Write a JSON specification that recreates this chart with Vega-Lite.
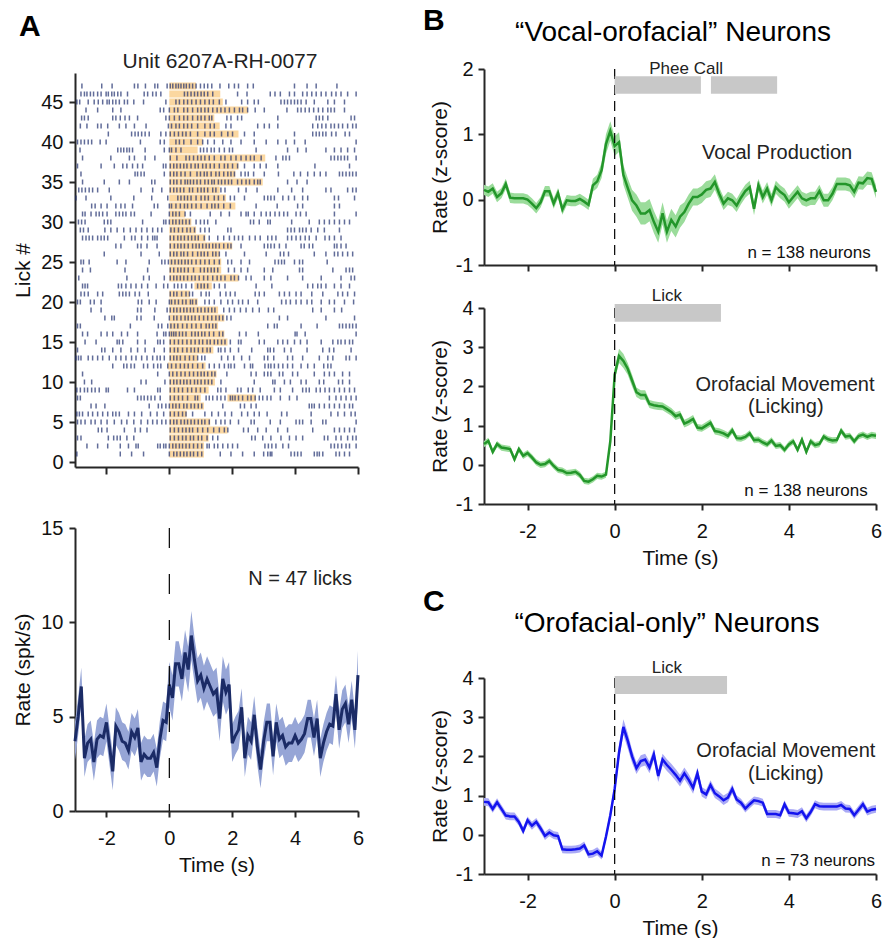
{
  "$schema": "https://vega.github.io/schema/vega-lite/v6.json",
  "background": "white",
  "padding": {"left": 12, "top": 5, "right": 0, "bottom": 0},
  "config": {
    "view": {"stroke": null},
    "font": "Liberation Sans",
    "axis": {"domainColor": "#262626", "domainWidth": 2, "tickColor": "#262626", "tickWidth": 2, "tickSize": 6, "labelFont": "Liberation Sans", "labelFontSize": 20, "labelColor": "#111", "titleFont": "Liberation Sans", "titleFontSize": 21, "titleFontWeight": "normal", "titleColor": "#111", "grid": false, "labelPadding": 5, "titlePadding": 6, "labelFlush": false, "labelOverlap": false},
    "axisX": {"labelPadding": 11, "titlePadding": 6},
    "text": {"font": "Liberation Sans"}
  },
  "datasets": {
    "licks": [
      {"r":47,"s":0,"e":0.85},{"r":46,"s":0,"e":1.62},{"r":45,"s":0,"e":1.7},{"r":44,"s":0,"e":2.5},{"r":43,"s":0,"e":1.43},{"r":42,"s":0,"e":1.6},{"r":41,"s":0,"e":2.2},{"r":40,"s":0,"e":1.06},{"r":39,"s":0,"e":0.9},{"r":38,"s":0,"e":3.05},{"r":37,"s":0,"e":2.2},{"r":36,"s":0,"e":2.1},{"r":35,"s":0,"e":2.97},{"r":34,"s":0,"e":1.6},{"r":33,"s":0,"e":1.8},{"r":32,"s":0,"e":2.1},{"r":31,"s":0,"e":0.5},{"r":30,"s":0,"e":0.7},{"r":29,"s":0,"e":0.85},{"r":28,"s":0,"e":1.15},{"r":27,"s":0,"e":2.0},{"r":26,"s":0,"e":1.6},{"r":25,"s":0,"e":1.65},{"r":24,"s":0,"e":1.65},{"r":23,"s":0,"e":2.2},{"r":22,"s":0.8,"e":1.35},{"r":21,"s":0,"e":0.65},{"r":20,"s":0,"e":0.9},{"r":19,"s":0,"e":1.55},{"r":18,"s":0,"e":1.75},{"r":17,"s":0,"e":1.55},{"r":16,"s":0,"e":1.75},{"r":15,"s":0,"e":1.85},{"r":14,"s":0,"e":1.4},{"r":13,"s":0,"e":0.9},{"r":12,"s":-0.05,"e":1.15},{"r":11,"s":0,"e":1.5},{"r":10,"s":0,"e":1.45},{"r":9,"s":0,"e":1.25},{"r":8,"s":0,"e":1.0},{"r":8,"s":1.85,"e":2.75},{"r":7,"s":0,"e":1.1},{"r":6,"s":0,"e":0.55},{"r":5,"s":0,"e":1.3},{"r":4,"s":0,"e":1.85},{"r":3,"s":0,"e":1.25},{"r":2,"s":0,"e":1.1},{"r":1,"s":0,"e":1.1}
    ],
    "spikes": [
      {"r":47,"t":[-2.78,-2.15,-1.82,-1.11,-1.0,-0.76,-0.46,-0.37,-0.07,0.03,0.11,0.21,0.29,0.37,0.46,0.54,0.64,0.74,0.85,0.99,1.11,1.22,1.35,1.61,1.89,2.07,2.2,2.49,2.67,3.98,4.38,4.67,5.33]},
      {"r":46,"t":[-2.81,-2.7,-2.62,-2.51,-2.41,-2.28,-2.17,-2.01,-1.94,-1.83,-1.75,-1.64,-1.54,-1.33,-0.8,-0.69,-0.53,-0.42,-0.27,0.48,0.58,0.69,0.8,0.9,1.01,1.11,1.22,1.38,2.17,2.47,3.21,3.36,3.53,3.82,3.98,4.24,4.38,4.53,4.67,4.83,4.98,5.16,5.3,5.46,5.67,5.94]},
      {"r":45,"t":[-2.94,-2.85,-2.58,-2.39,-2.26,-2.12,-1.98,-1.91,-1.8,-1.7,-1.59,-1.43,-1.33,-1.13,-0.82,-0.11,0.21,0.32,0.46,0.58,0.71,0.85,0.99,1.13,1.27,1.4,1.59,1.8,2.3,2.49,2.7,2.83,3.55,3.66,3.76,3.87,3.98,4.08,4.19,4.35,4.61,5.04,5.25,5.57]},
      {"r":44,"t":[-2.65,-2.28,-1.8,-1.54,-0.29,-0.18,0.0,0.16,0.27,0.46,0.58,0.74,0.9,1.01,1.13,1.24,1.38,1.52,1.64,1.77,1.91,2.07,2.23,2.33,2.49,2.73,3.02,3.74,4.08,4.19,4.32,4.45,4.59,4.74,4.88,5.04,5.14,5.25,5.57]},
      {"r":43,"t":[-2.79,-2.7,-2.58,-1.8,-1.7,-1.56,-1.41,-1.27,-1.01,-0.11,0.0,0.16,0.32,0.46,0.58,0.74,0.9,1.01,1.13,1.27,1.35,1.83,1.96,2.17,2.3,3.45,4.67,4.77,4.88,5.04,5.78,5.89]},
      {"r":42,"t":[-2.83,-2.62,-2.28,-2.17,-1.96,-1.59,-1.38,-1.11,-0.74,-0.03,0.07,0.21,0.32,0.46,0.58,0.71,0.9,1.13,1.3,1.43,1.8,1.96,2.81,3.02,3.18,3.45,4.56,4.72,4.85,4.98,5.14,5.25,5.38,5.51,5.67,5.83,5.94]},
      {"r":41,"t":[-1.94,-1.2,-1.09,-0.99,-0.88,-0.77,-0.64,-0.27,-0.11,0.03,0.16,0.29,0.42,0.53,0.67,0.9,1.13,1.3,1.43,1.66,1.86,2.01,2.39,2.7,3.98,4.56,4.67,4.77,4.88,4.98,5.16,5.3,5.59,5.73]},
      {"r":40,"t":[-2.92,-2.81,-2.7,-2.58,-2.47,-2.2,-2.01,-0.92,-0.29,-0.16,0.21,0.32,0.46,0.69,0.9,1.06,1.22,1.43,1.7,1.96,2.28,2.7,3.08,3.45,3.71,3.98,4.32,5.94]},
      {"r":39,"t":[-2.84,-1.64,-1.54,-1.45,-1.35,-1.27,-1.17,-0.77,-0.16,0.0,0.07,0.21,0.37,0.99,1.09,1.2,1.33,1.43,1.59,1.75,1.91,2.01,2.76,3.76,4.08,4.35,4.98,5.25,5.46,5.67,5.89]},
      {"r":38,"t":[-2.76,-1.86,-1.27,-1.11,-0.77,-0.46,0.03,0.24,0.53,0.64,0.77,0.9,1.01,1.13,1.27,1.43,1.64,1.77,1.96,2.12,2.28,2.44,2.58,2.7,2.92,3.39,3.61,3.71,3.82,5.14,5.25,5.36,5.46,5.57,5.67,5.94]},
      {"r":37,"t":[-2.92,-2.17,-1.75,-1.48,-1.35,-1.17,-1.01,-0.85,-0.19,-0.11,0.03,0.14,0.24,0.35,0.46,0.56,0.69,0.82,0.92,1.06,1.17,1.3,1.43,1.59,1.75,1.86,2.01,2.17,2.39,2.7,2.89,3.08,3.45,4.63,5.73]},
      {"r":36,"t":[-2.81,-1.09,-1.01,-0.9,-0.8,-0.16,0.03,0.14,0.24,0.37,0.5,0.67,0.88,0.99,1.11,1.2,1.33,1.48,1.59,1.73,1.86,1.96,2.07,2.28,2.41,2.51,2.68,3.02,3.47,3.96,4.17,4.4,4.61,4.8,4.98,5.41,5.51,5.62,5.73,5.83,5.94]},
      {"r":35,"t":[-2.76,-2.07,-1.59,-1.27,-0.56,-0.46,0.03,0.14,0.24,0.37,0.5,0.58,0.67,0.77,0.88,0.99,1.13,1.24,1.35,1.43,1.56,1.66,1.77,1.88,1.98,2.17,2.3,2.44,2.55,2.7,2.81,2.89,3.76,4.06,4.38]},
      {"r":34,"t":[-2.88,-2.78,-2.67,-2.55,-2.44,-2.28,-1.91,-0.9,-0.53,-0.24,0.03,0.14,0.24,0.35,0.46,0.64,0.74,0.9,1.01,1.11,1.22,1.38,1.48,1.64,1.77,2.2,2.44,2.79,3.45,3.89,4.24,4.98,5.14,5.67,5.83,5.94]},
      {"r":33,"t":[-2.97,-2.65,-1.86,-1.13,-0.56,-0.05,0.27,0.37,0.48,0.58,0.69,0.85,1.01,1.13,1.24,1.43,1.56,1.73,1.94,2.07,2.39,3.02,3.13,3.23,3.34,3.61,3.79,3.98,4.24,4.4,5.25,5.38,5.89]},
      {"r":32,"t":[-2.47,-2.36,-2.17,-1.98,-1.7,-1.54,-1.41,-1.17,-0.48,-0.37,0.0,0.07,0.21,0.35,0.48,0.58,0.71,0.85,1.01,1.2,1.35,1.45,1.56,1.73,1.94,2.76,3.43,4.08,4.24,5.25,5.41]},
      {"r":31,"t":[-2.76,-2.68,-2.49,-2.33,-2.23,-2.12,-1.98,-1.7,-1.59,-1.48,-1.38,-1.22,-1.11,-0.58,0.0,0.11,0.21,0.32,0.5,0.67,1.3,1.64,1.91,2.28,2.44,2.51,2.7,2.92,3.08,3.21,3.36,3.5,3.64,3.76,4.03,4.17,4.35,5.25,5.94]},
      {"r":30,"t":[-2.89,-2.79,-2.68,-2.07,-1.96,-1.86,-0.85,-0.18,-0.11,0.0,0.11,0.21,0.32,0.42,0.53,0.64,0.85,0.99,1.11,1.22,1.48,2.58,2.68,2.86,3.13,3.21,3.89,4.45,4.77,4.93,5.09,5.25,5.41,5.57,5.73]},
      {"r":29,"t":[-2.83,-2.73,-2.58,-2.05,-1.86,-1.66,-1.45,-1.24,-1.06,-0.88,-0.71,-0.53,-0.37,-0.24,0.05,0.16,0.29,0.42,0.56,0.67,0.8,0.99,1.13,1.27,1.86,1.96,3.76,3.87,3.98,4.14,4.24,4.35,4.51,4.72,4.93,5.41]},
      {"r":28,"t":[-2.76,-2.65,-2.55,-2.44,-2.28,-2.17,-2.07,-1.96,-1.43,-1.2,-1.09,-0.88,-0.69,-0.53,-0.46,-0.39,0.03,0.14,0.27,0.37,0.48,0.6,0.71,0.82,0.92,1.11,1.27,1.54,1.73,1.91,2.07,2.2,2.33,2.55,2.73,2.89,3.13,3.26,3.39,3.76,3.89,4.03,4.17,4.32,4.45,4.67,4.95,5.09,5.25,5.46]},
      {"r":27,"t":[-1.7,-1.54,-1.01,-0.9,-0.71,-0.39,0.03,0.16,0.27,0.37,0.48,0.6,0.74,0.85,0.95,1.06,1.17,1.27,1.38,1.48,1.59,1.73,1.86,1.96,2.28,3.02,3.13,3.23,3.34,3.5,3.71,4.19,4.29,4.45,4.56,5.25,5.33,5.46,5.62]},
      {"r":26,"t":[-2.07,-0.9,-0.32,0.03,0.14,0.24,0.37,0.46,0.58,0.74,0.9,1.01,1.11,1.22,1.38,1.48,1.59,1.8,2.39,3.08,3.53,3.64,3.79,4.61,4.98,5.25,5.36,5.51,5.67,5.83]},
      {"r":25,"t":[-2.81,-2.73,-2.55,-1.66,-1.38,-0.64,-0.24,-0.14,-0.03,0.07,0.18,0.29,0.39,0.5,0.6,0.71,0.85,0.99,1.13,1.27,1.43,1.59,1.86,1.98,2.28,2.55,3.36,3.47,3.57,3.66,3.98,4.14,4.24,5.02]},
      {"r":24,"t":[-2.76,-2.51,-1.41,-0.69,0.03,0.14,0.27,0.37,0.48,0.6,0.77,0.99,1.11,1.22,1.33,1.43,1.54,1.88,2.07,2.28,2.49,3.02,3.29,4.14,4.24,5.2,5.62,5.73,5.83]},
      {"r":23,"t":[-2.88,-1.35,-0.82,-0.64,-0.16,0.03,0.14,0.24,0.35,0.46,0.58,0.71,0.82,0.95,1.09,1.22,1.38,1.52,1.64,1.77,1.96,2.07,2.2,2.44,2.6,3.02,3.23,3.76,4.24,4.83,5.46,5.78,5.89]},
      {"r":22,"t":[-2.76,-2.68,-2.6,-1.62,-1.52,-1.38,-1.22,-1.06,-0.88,-0.69,-0.42,-0.18,-0.05,0.16,0.27,0.39,0.53,0.71,0.9,1.01,1.11,1.22,1.43,1.59,1.77,2.76,3.26,4.4,4.56,4.72,4.83,4.98,5.25,5.46,5.73]},
      {"r":21,"t":[-2.81,-2.7,-2.58,-2.28,-2.12,-1.59,-1.48,-1.38,-1.27,-1.09,-0.95,-0.67,0.03,0.14,0.24,0.39,0.53,0.64,0.74,1.01,1.17,1.27,1.62,1.8,1.94,2.09,2.73,2.86,3.02,3.5,3.66,3.82,4.03,4.19,4.53,4.88,5.36,5.51,5.67,5.89]},
      {"r":20,"t":[-2.92,-2.83,-2.51,-2.39,-2.17,-0.99,-0.88,-0.64,-0.42,0.0,0.07,0.18,0.29,0.42,0.53,0.67,0.74,0.85,1.13,1.27,1.43,1.64,1.86,2.01,2.2,2.33,2.51,2.81,3.57,3.71,3.85,4.03,4.19,4.38,4.53,4.83,5.09,5.25,5.57,5.86]},
      {"r":19,"t":[-2.49,-2.17,-1.01,-0.9,-0.46,-0.07,0.03,0.14,0.24,0.35,0.46,0.56,0.67,0.77,0.9,1.01,1.13,1.24,1.35,1.45,1.73,1.91,2.07,2.26,2.44,2.65,2.86,3.15,3.32,4.56,4.83,5.25,5.48]},
      {"r":18,"t":[-2.05,-1.83,-1.75,-1.03,-0.9,-0.48,0.0,0.14,0.24,0.37,0.5,0.6,0.71,0.82,0.95,1.09,1.22,1.35,1.48,1.59,1.7,1.83,1.96,3.5,3.76,4.98,5.89]},
      {"r":17,"t":[-2.92,-2.83,-1.24,-0.35,-0.24,-0.05,0.05,0.16,0.27,0.42,0.56,0.71,0.85,1.01,1.17,1.27,1.38,1.48,3.13,3.34,3.43,4.19,4.7,5.41,5.51,5.62,5.73,5.83,5.94]},
      {"r":16,"t":[-2.76,-2.6,-2.17,-1.98,-1.8,-1.52,-1.33,-1.01,-0.39,-0.18,-0.11,0.0,0.07,0.14,0.21,0.32,0.42,0.53,0.71,0.82,0.92,1.03,1.13,1.27,1.41,1.59,1.7,2.23,2.44,2.83,4.0,4.06,4.32,5.94]},
      {"r":15,"t":[-2.68,-2.33,-1.66,-1.59,-1.48,-1.01,-0.77,-0.37,-0.29,-0.18,0.03,0.16,0.29,0.42,0.56,0.69,0.82,0.95,1.06,1.2,1.3,1.43,1.54,1.66,1.77,1.94,2.2,2.28,2.86,3.02,3.45,3.61,3.76,3.98,4.17,4.38,4.83,5.2,5.36,5.46,5.59,5.73,5.83]},
      {"r":14,"t":[-2.92,-2.15,-2.05,-1.8,-1.54,-1.22,-1.01,-0.77,-0.48,-0.16,0.03,0.16,0.27,0.42,0.56,0.69,0.8,0.92,1.06,1.2,1.3,1.56,1.64,1.77,1.94,2.2,2.62,3.13,3.21,3.32,3.66,3.87,4.38,4.88,5.09,5.23,5.78]},
      {"r":13,"t":[-2.97,-2.89,-2.81,-2.58,-2.44,-2.28,-2.12,-1.91,-1.7,-1.54,-1.38,-1.2,-1.06,-0.88,-0.71,-0.53,-0.39,-0.29,-0.16,0.03,0.14,0.24,0.35,0.5,0.64,0.77,0.9,1.03,1.13,1.66,1.86,2.05,2.3,2.55,3.02,3.13,3.32,3.76,3.92,4.24,4.77,5.04,5.2,5.62,5.73,5.94]},
      {"r":12,"t":[-1.8,-1.45,-1.35,-1.22,-1.11,-0.82,-0.69,-0.5,-0.37,-0.27,-0.05,0.07,0.21,0.35,0.48,0.6,0.74,0.9,1.06,1.27,1.43,1.59,1.75,1.88,1.96,2.07,2.39,2.58,2.65,3.04,3.15,3.23,3.34,3.47,3.61,3.76,3.92,4.19,4.4,4.61,4.91,5.04,5.14]},
      {"r":11,"t":[-2.76,-0.37,0.0,0.11,0.24,0.37,0.5,0.64,0.77,0.9,1.01,1.11,1.22,1.35,1.45,1.83,2.6,2.76,3.02,3.13,3.23,3.5,3.61,3.92,4.08,4.61,4.93,5.09,5.25,5.51,5.73]},
      {"r":10,"t":[-2.7,-2.47,-0.9,-0.74,-0.14,0.03,0.14,0.24,0.35,0.46,0.56,0.67,0.8,0.9,1.01,1.13,1.24,1.35,1.64,2.7,3.29,3.36,3.66,3.85,4.19,4.35,4.77,4.91,5.38,5.51,5.73]},
      {"r":9,"t":[-2.94,-2.83,-2.7,-2.6,-2.47,-2.36,-2.23,-2.01,-1.94,-1.33,-1.11,-0.37,-0.29,0.03,0.16,0.29,0.42,0.58,0.71,0.85,0.99,1.13,1.54,1.64,1.8,2.17,2.28,2.51,2.65,2.89,3.34,3.53,3.92,4.24,4.35,4.45,4.67,4.8,4.95,5.09,5.25,5.41,5.57,5.73,5.89]},
      {"r":8,"t":[-2.92,-2.83,-1.01,-0.9,-0.8,-0.69,-0.58,-0.46,-0.29,0.03,0.16,0.29,0.42,0.58,0.82,0.9,1.17,1.27,1.38,1.52,1.64,1.77,1.94,2.01,2.09,2.2,2.33,2.49,2.6,2.73,2.86,2.97,3.11,3.23,3.53,3.82,4.06,5.09,5.3,5.46,5.62,5.78,5.94]},
      {"r":7,"t":[-2.49,-2.33,-2.05,-0.64,-0.35,-0.24,-0.11,0.0,0.11,0.21,0.32,0.46,0.56,0.69,0.8,0.92,1.03,1.7,2.26,2.39,2.6,2.76,4.45,4.53,4.61,4.77,4.93,5.09,5.25,5.41,5.57,5.73,5.83]},
      {"r":6,"t":[-2.94,-2.86,-2.76,-2.58,-2.44,-2.28,-2.12,-1.96,-1.8,-1.7,-1.59,-1.3,-1.11,-0.88,-0.6,-0.39,-0.18,0.03,0.16,0.29,0.42,0.53,0.74,1.13,1.35,1.56,1.77,1.98,2.3,2.49,2.7,2.86,3.11,3.57,3.74,4.51,5.14,5.36,5.57,5.78,5.91]},
      {"r":5,"t":[-2.92,-2.81,-2.68,-2.49,-2.36,-2.17,-1.98,-1.75,-1.52,-1.35,-1.13,-0.9,-0.69,-0.53,-0.39,-0.24,-0.11,0.03,0.14,0.24,0.37,0.48,0.58,0.69,0.8,0.92,1.03,1.13,1.27,1.48,1.64,1.77,1.94,2.2,2.6,2.7,3.21,3.53,4.03,4.14,4.24,4.51,4.88,4.98,5.94]},
      {"r":4,"t":[-2.26,-2.15,-1.98,-1.43,-1.09,-0.92,-0.71,0.03,0.16,0.29,0.42,0.53,0.64,0.74,0.9,1.06,1.22,1.41,1.59,1.75,1.86,2.36,2.51,2.81,3.08,3.45,3.76,4.56,5.25,5.41,5.57,5.73,5.89]},
      {"r":3,"t":[-2.92,-2.81,-1.94,-1.77,-1.66,-1.56,-1.35,-1.13,0.03,0.16,0.29,0.42,0.53,0.67,0.77,0.92,1.03,1.2,1.38,1.54,2.62,2.73,2.97,3.23,3.55,3.82,4.03,4.24,4.93,5.04,5.3,5.46,5.67,5.83,5.94]},
      {"r":2,"t":[-2.62,-2.28,-1.96,-1.56,-1.3,-1.06,-0.99,-0.37,-0.29,-0.18,-0.11,0.0,0.11,0.21,0.32,0.42,0.53,0.64,0.77,0.9,1.03,1.2,1.27,1.43,1.54,1.7,1.86,2.01,2.17,3.04,3.15,3.26,3.39,3.61,3.79,5.14,5.25,5.36,5.48,5.62,5.73,5.94]},
      {"r":1,"t":[-2.94,-1.56,-1.2,-0.82,0.0,0.14,0.24,0.35,0.46,0.56,0.67,0.77,0.9,1.03,1.62,1.96,2.33,2.7,3.0,3.13,3.21,3.26,3.87,3.98,4.08,4.19,4.61,4.7,4.77,4.88,5.3,5.41,5.57,5.73]}
    ],
    "rateA": [
      {"t":-3.0,"v":3.7,"lo":2.7,"hi":4.7},{"t":-2.9,"v":5.0,"lo":4.0,"hi":6.0},{"t":-2.8,"v":6.6,"lo":5.6,"hi":7.6},{"t":-2.7,"v":2.8,"lo":1.8,"hi":3.8},{"t":-2.6,"v":3.6,"lo":2.6,"hi":4.6},{"t":-2.5,"v":3.8,"lo":2.8,"hi":4.8},{"t":-2.4,"v":2.6,"lo":1.6,"hi":3.6},{"t":-2.3,"v":3.8,"lo":2.8,"hi":4.8},{"t":-2.2,"v":4.0,"lo":3.0,"hi":5.0},{"t":-2.1,"v":3.9,"lo":2.9,"hi":4.9},
      {"t":-2.0,"v":4.7,"lo":3.7,"hi":5.7},{"t":-1.9,"v":3.4,"lo":2.4,"hi":4.4},{"t":-1.8,"v":2.1,"lo":1.1,"hi":3.1},{"t":-1.7,"v":4.5,"lo":3.5,"hi":5.5},{"t":-1.6,"v":4.2,"lo":3.2,"hi":5.2},{"t":-1.5,"v":3.7,"lo":2.7,"hi":4.7},{"t":-1.4,"v":3.6,"lo":2.6,"hi":4.6},{"t":-1.3,"v":3.2,"lo":2.2,"hi":4.2},{"t":-1.2,"v":4.2,"lo":3.2,"hi":5.2},{"t":-1.1,"v":3.9,"lo":2.9,"hi":4.9},
      {"t":-1.0,"v":4.4,"lo":3.4,"hi":5.4},{"t":-0.9,"v":2.6,"lo":1.6,"hi":3.6},{"t":-0.8,"v":3.0,"lo":2.0,"hi":4.0},{"t":-0.7,"v":2.8,"lo":1.8,"hi":3.8},{"t":-0.6,"v":2.8,"lo":1.8,"hi":3.8},{"t":-0.5,"v":3.1,"lo":2.1,"hi":4.1},{"t":-0.4,"v":2.3,"lo":1.3,"hi":3.3},{"t":-0.3,"v":3.8,"lo":2.8,"hi":4.8},{"t":-0.2,"v":4.8,"lo":3.8,"hi":5.8},{"t":-0.1,"v":4.7,"lo":3.7,"hi":5.7},
      {"t":0.0,"v":6.7,"lo":5.5,"hi":7.9},{"t":0.1,"v":6.0,"lo":4.8,"hi":7.2},{"t":0.2,"v":7.8,"lo":6.6,"hi":9.0},{"t":0.3,"v":7.8,"lo":6.6,"hi":9.0},{"t":0.4,"v":7.0,"lo":5.8,"hi":8.2},{"t":0.5,"v":8.4,"lo":7.2,"hi":9.6},{"t":0.6,"v":7.5,"lo":6.3,"hi":8.7},{"t":0.7,"v":9.3,"lo":8.0,"hi":10.6},{"t":0.8,"v":8.0,"lo":6.8,"hi":9.2},{"t":0.9,"v":6.9,"lo":5.7,"hi":8.1},
      {"t":1.0,"v":7.2,"lo":6.0,"hi":8.4},{"t":1.1,"v":6.5,"lo":5.3,"hi":7.7},{"t":1.2,"v":7.0,"lo":5.8,"hi":8.2},{"t":1.3,"v":6.6,"lo":5.4,"hi":7.8},{"t":1.4,"v":6.2,"lo":5.0,"hi":7.4},{"t":1.5,"v":6.4,"lo":5.2,"hi":7.6},{"t":1.6,"v":4.9,"lo":3.7,"hi":6.1},{"t":1.7,"v":7.0,"lo":5.8,"hi":8.2},{"t":1.8,"v":6.3,"lo":5.1,"hi":7.5},{"t":1.9,"v":6.7,"lo":5.5,"hi":7.9},
      {"t":2.0,"v":3.6,"lo":2.6,"hi":4.6},{"t":2.1,"v":4.0,"lo":3.0,"hi":5.0},{"t":2.2,"v":4.3,"lo":3.3,"hi":5.3},{"t":2.3,"v":5.5,"lo":4.5,"hi":6.5},{"t":2.4,"v":2.8,"lo":1.8,"hi":3.8},{"t":2.5,"v":4.0,"lo":3.0,"hi":5.0},{"t":2.6,"v":3.7,"lo":2.7,"hi":4.7},{"t":2.7,"v":5.1,"lo":4.1,"hi":6.1},{"t":2.8,"v":3.4,"lo":2.4,"hi":4.4},{"t":2.9,"v":2.2,"lo":1.2,"hi":3.2},
      {"t":3.0,"v":3.7,"lo":2.7,"hi":4.7},{"t":3.1,"v":4.7,"lo":3.7,"hi":5.7},{"t":3.2,"v":4.7,"lo":3.7,"hi":5.7},{"t":3.3,"v":2.9,"lo":1.9,"hi":3.9},{"t":3.4,"v":4.7,"lo":3.7,"hi":5.7},{"t":3.5,"v":3.8,"lo":2.8,"hi":4.8},{"t":3.6,"v":4.0,"lo":3.0,"hi":5.0},{"t":3.7,"v":3.4,"lo":2.4,"hi":4.4},{"t":3.8,"v":3.6,"lo":2.6,"hi":4.6},{"t":3.9,"v":3.6,"lo":2.6,"hi":4.6},
      {"t":4.0,"v":4.0,"lo":3.0,"hi":5.0},{"t":4.1,"v":3.6,"lo":2.6,"hi":4.6},{"t":4.2,"v":3.8,"lo":2.8,"hi":4.8},{"t":4.3,"v":4.1,"lo":3.1,"hi":5.1},{"t":4.4,"v":4.9,"lo":3.9,"hi":5.9},{"t":4.5,"v":4.9,"lo":3.9,"hi":5.9},{"t":4.6,"v":3.9,"lo":2.9,"hi":4.9},{"t":4.7,"v":4.9,"lo":3.9,"hi":5.9},{"t":4.8,"v":2.8,"lo":1.8,"hi":3.8},{"t":4.9,"v":3.6,"lo":2.6,"hi":4.6},
      {"t":5.0,"v":4.2,"lo":3.2,"hi":5.2},{"t":5.1,"v":4.6,"lo":3.6,"hi":5.6},{"t":5.2,"v":4.5,"lo":3.5,"hi":5.5},{"t":5.3,"v":6.2,"lo":5.2,"hi":7.2},{"t":5.4,"v":4.3,"lo":3.3,"hi":5.3},{"t":5.5,"v":5.4,"lo":4.4,"hi":6.4},{"t":5.6,"v":5.7,"lo":4.7,"hi":6.7},{"t":5.7,"v":4.6,"lo":3.6,"hi":5.6},{"t":5.8,"v":5.9,"lo":4.9,"hi":6.9},{"t":5.9,"v":4.3,"lo":3.3,"hi":5.3},{"t":6.0,"v":7.2,"lo":5.9,"hi":8.5}
    ],
    "bt": [
      {"t":-3.0,"v":0.15,"lo":0.07,"hi":0.23},{"t":-2.9,"v":0.12,"lo":0.04,"hi":0.2},{"t":-2.8,"v":0.17,"lo":0.09,"hi":0.25},{"t":-2.7,"v":0.04,"lo":-0.04,"hi":0.12},{"t":-2.6,"v":0.1,"lo":0.02,"hi":0.18},{"t":-2.5,"v":0.24,"lo":0.16,"hi":0.32},{"t":-2.4,"v":0.03,"lo":-0.05,"hi":0.11},{"t":-2.3,"v":0.02,"lo":-0.06,"hi":0.1},{"t":-2.2,"v":0.02,"lo":-0.06,"hi":0.1},{"t":-2.1,"v":0.02,"lo":-0.06,"hi":0.1},
      {"t":-2.0,"v":0.0,"lo":-0.08,"hi":0.08},{"t":-1.9,"v":-0.06,"lo":-0.14,"hi":0.02},{"t":-1.8,"v":-0.13,"lo":-0.21,"hi":-0.05},{"t":-1.7,"v":-0.04,"lo":-0.12,"hi":0.04},{"t":-1.6,"v":0.13,"lo":0.05,"hi":0.21},{"t":-1.5,"v":0.13,"lo":0.05,"hi":0.21},{"t":-1.4,"v":-0.06,"lo":-0.14,"hi":0.02},{"t":-1.3,"v":0.1,"lo":0.02,"hi":0.18},{"t":-1.2,"v":-0.15,"lo":-0.23,"hi":-0.07},{"t":-1.1,"v":-0.01,"lo":-0.09,"hi":0.07},
      {"t":-1.0,"v":-0.02,"lo":-0.1,"hi":0.06},{"t":-0.9,"v":-0.02,"lo":-0.1,"hi":0.06},{"t":-0.8,"v":0.01,"lo":-0.07,"hi":0.09},{"t":-0.7,"v":-0.03,"lo":-0.11,"hi":0.05},{"t":-0.6,"v":-0.08,"lo":-0.16,"hi":0.0},{"t":-0.5,"v":0.22,"lo":0.12,"hi":0.32},{"t":-0.4,"v":0.28,"lo":0.18,"hi":0.38},{"t":-0.3,"v":0.45,"lo":0.33,"hi":0.57},{"t":-0.2,"v":0.85,"lo":0.7,"hi":1.0},{"t":-0.1,"v":1.05,"lo":0.9,"hi":1.2},
      {"t":0.0,"v":0.82,"lo":0.67,"hi":0.97},{"t":0.1,"v":0.88,"lo":0.73,"hi":1.03},{"t":0.2,"v":0.38,"lo":0.23,"hi":0.53},{"t":0.3,"v":0.18,"lo":0.03,"hi":0.33},{"t":0.4,"v":-0.01,"lo":-0.17,"hi":0.15},{"t":0.5,"v":-0.09,"lo":-0.26,"hi":0.08},{"t":0.6,"v":-0.21,"lo":-0.38,"hi":-0.04},{"t":0.7,"v":-0.21,"lo":-0.38,"hi":-0.04},{"t":0.8,"v":-0.16,"lo":-0.33,"hi":0.01},{"t":0.9,"v":-0.34,"lo":-0.51,"hi":-0.17},
      {"t":1.0,"v":-0.49,"lo":-0.66,"hi":-0.32},{"t":1.1,"v":-0.21,"lo":-0.38,"hi":-0.04},{"t":1.2,"v":-0.49,"lo":-0.66,"hi":-0.32},{"t":1.3,"v":-0.31,"lo":-0.48,"hi":-0.14},{"t":1.4,"v":-0.41,"lo":-0.58,"hi":-0.24},{"t":1.5,"v":-0.26,"lo":-0.43,"hi":-0.09},{"t":1.6,"v":-0.19,"lo":-0.34,"hi":-0.04},{"t":1.7,"v":-0.06,"lo":-0.2,"hi":0.08},{"t":1.8,"v":0.04,"lo":-0.09,"hi":0.17},{"t":1.9,"v":0.04,"lo":-0.09,"hi":0.17},
      {"t":2.0,"v":0.08,"lo":-0.05,"hi":0.21},{"t":2.1,"v":0.15,"lo":0.02,"hi":0.28},{"t":2.2,"v":0.17,"lo":0.04,"hi":0.3},{"t":2.3,"v":0.27,"lo":0.15,"hi":0.39},{"t":2.4,"v":0.09,"lo":-0.01,"hi":0.19},{"t":2.5,"v":-0.06,"lo":-0.16,"hi":0.04},{"t":2.6,"v":0.02,"lo":-0.08,"hi":0.12},{"t":2.7,"v":-0.01,"lo":-0.11,"hi":0.09},{"t":2.8,"v":-0.09,"lo":-0.19,"hi":0.01},{"t":2.9,"v":0.03,"lo":-0.07,"hi":0.13},
      {"t":3.0,"v":0.13,"lo":0.03,"hi":0.23},{"t":3.1,"v":0.19,"lo":0.09,"hi":0.29},{"t":3.2,"v":-0.14,"lo":-0.24,"hi":-0.04},{"t":3.3,"v":0.22,"lo":0.12,"hi":0.32},{"t":3.4,"v":0.04,"lo":-0.06,"hi":0.14},{"t":3.5,"v":0.17,"lo":0.07,"hi":0.27},{"t":3.6,"v":-0.01,"lo":-0.11,"hi":0.09},{"t":3.7,"v":0.19,"lo":0.09,"hi":0.29},{"t":3.8,"v":0.12,"lo":0.02,"hi":0.22},{"t":3.9,"v":0.07,"lo":-0.03,"hi":0.17},
      {"t":4.0,"v":-0.04,"lo":-0.14,"hi":0.06},{"t":4.1,"v":0.04,"lo":-0.06,"hi":0.14},{"t":4.2,"v":0.12,"lo":0.02,"hi":0.22},{"t":4.3,"v":0.02,"lo":-0.08,"hi":0.12},{"t":4.4,"v":-0.01,"lo":-0.11,"hi":0.09},{"t":4.5,"v":0.02,"lo":-0.08,"hi":0.12},{"t":4.6,"v":0.02,"lo":-0.08,"hi":0.12},{"t":4.7,"v":0.13,"lo":0.03,"hi":0.23},{"t":4.8,"v":-0.01,"lo":-0.11,"hi":0.09},{"t":4.9,"v":-0.01,"lo":-0.11,"hi":0.09},
      {"t":5.0,"v":0.09,"lo":-0.01,"hi":0.19},{"t":5.1,"v":0.24,"lo":0.14,"hi":0.34},{"t":5.2,"v":0.24,"lo":0.14,"hi":0.34},{"t":5.3,"v":0.24,"lo":0.14,"hi":0.34},{"t":5.4,"v":0.22,"lo":0.12,"hi":0.32},{"t":5.5,"v":0.12,"lo":0.02,"hi":0.22},{"t":5.6,"v":0.26,"lo":0.16,"hi":0.36},{"t":5.7,"v":0.25,"lo":0.15,"hi":0.35},{"t":5.8,"v":0.33,"lo":0.23,"hi":0.43},{"t":5.9,"v":0.32,"lo":0.22,"hi":0.42},{"t":6.0,"v":0.12,"lo":0.02,"hi":0.22}
    ],
    "bm": [
      {"t":-3.0,"v":0.53,"lo":0.45,"hi":0.61},{"t":-2.9,"v":0.61,"lo":0.53,"hi":0.69},{"t":-2.8,"v":0.33,"lo":0.25,"hi":0.41},{"t":-2.7,"v":0.53,"lo":0.45,"hi":0.61},{"t":-2.6,"v":0.44,"lo":0.36,"hi":0.52},{"t":-2.5,"v":0.42,"lo":0.34,"hi":0.5},{"t":-2.4,"v":0.4,"lo":0.32,"hi":0.48},{"t":-2.3,"v":0.14,"lo":0.06,"hi":0.22},{"t":-2.2,"v":0.4,"lo":0.32,"hi":0.48},{"t":-2.1,"v":0.23,"lo":0.15,"hi":0.31},
      {"t":-2.0,"v":0.3,"lo":0.22,"hi":0.38},{"t":-1.9,"v":0.19,"lo":0.11,"hi":0.27},{"t":-1.8,"v":0.06,"lo":-0.02,"hi":0.14},{"t":-1.7,"v":0.0,"lo":-0.08,"hi":0.08},{"t":-1.6,"v":0.02,"lo":-0.06,"hi":0.1},{"t":-1.5,"v":0.1,"lo":0.02,"hi":0.18},{"t":-1.4,"v":-0.03,"lo":-0.11,"hi":0.05},{"t":-1.3,"v":-0.13,"lo":-0.21,"hi":-0.05},{"t":-1.2,"v":-0.15,"lo":-0.23,"hi":-0.07},{"t":-1.1,"v":-0.21,"lo":-0.29,"hi":-0.13},
      {"t":-1.0,"v":-0.2,"lo":-0.28,"hi":-0.12},{"t":-0.9,"v":-0.18,"lo":-0.26,"hi":-0.1},{"t":-0.8,"v":-0.26,"lo":-0.34,"hi":-0.18},{"t":-0.7,"v":-0.41,"lo":-0.49,"hi":-0.33},{"t":-0.6,"v":-0.43,"lo":-0.51,"hi":-0.35},{"t":-0.5,"v":-0.37,"lo":-0.45,"hi":-0.29},{"t":-0.4,"v":-0.28,"lo":-0.36,"hi":-0.2},{"t":-0.3,"v":-0.3,"lo":-0.38,"hi":-0.22},{"t":-0.2,"v":-0.25,"lo":-0.33,"hi":-0.17},{"t":-0.1,"v":0.6,"lo":0.5,"hi":0.7},
      {"t":0.0,"v":2.3,"lo":2.15,"hi":2.45},{"t":0.1,"v":2.78,"lo":2.6,"hi":2.96},{"t":0.2,"v":2.65,"lo":2.47,"hi":2.83},{"t":0.3,"v":2.45,"lo":2.3,"hi":2.6},{"t":0.4,"v":2.15,"lo":2.0,"hi":2.3},{"t":0.5,"v":1.85,"lo":1.73,"hi":1.97},{"t":0.6,"v":1.78,"lo":1.66,"hi":1.9},{"t":0.7,"v":1.78,"lo":1.66,"hi":1.9},{"t":0.8,"v":1.55,"lo":1.45,"hi":1.65},{"t":0.9,"v":1.52,"lo":1.42,"hi":1.62},
      {"t":1.0,"v":1.5,"lo":1.4,"hi":1.6},{"t":1.1,"v":1.49,"lo":1.39,"hi":1.59},{"t":1.2,"v":1.42,"lo":1.32,"hi":1.52},{"t":1.3,"v":1.35,"lo":1.25,"hi":1.45},{"t":1.4,"v":1.24,"lo":1.14,"hi":1.34},{"t":1.5,"v":1.28,"lo":1.18,"hi":1.38},{"t":1.6,"v":1.05,"lo":0.95,"hi":1.15},{"t":1.7,"v":1.1,"lo":1.0,"hi":1.2},{"t":1.8,"v":1.17,"lo":1.07,"hi":1.27},{"t":1.9,"v":0.95,"lo":0.86,"hi":1.04},
      {"t":2.0,"v":0.93,"lo":0.84,"hi":1.02},{"t":2.1,"v":1.0,"lo":0.91,"hi":1.09},{"t":2.2,"v":1.07,"lo":0.98,"hi":1.16},{"t":2.3,"v":0.86,"lo":0.77,"hi":0.95},{"t":2.4,"v":0.84,"lo":0.75,"hi":0.93},{"t":2.5,"v":0.8,"lo":0.71,"hi":0.89},{"t":2.6,"v":0.74,"lo":0.65,"hi":0.83},{"t":2.7,"v":0.88,"lo":0.79,"hi":0.97},{"t":2.8,"v":0.68,"lo":0.6,"hi":0.76},{"t":2.9,"v":0.67,"lo":0.59,"hi":0.75},
      {"t":3.0,"v":0.71,"lo":0.63,"hi":0.79},{"t":3.1,"v":0.8,"lo":0.72,"hi":0.88},{"t":3.2,"v":0.63,"lo":0.55,"hi":0.71},{"t":3.3,"v":0.64,"lo":0.56,"hi":0.72},{"t":3.4,"v":0.57,"lo":0.49,"hi":0.65},{"t":3.5,"v":0.52,"lo":0.44,"hi":0.6},{"t":3.6,"v":0.62,"lo":0.54,"hi":0.7},{"t":3.7,"v":0.48,"lo":0.4,"hi":0.56},{"t":3.8,"v":0.5,"lo":0.42,"hi":0.58},{"t":3.9,"v":0.38,"lo":0.3,"hi":0.46},
      {"t":4.0,"v":0.52,"lo":0.44,"hi":0.6},{"t":4.1,"v":0.6,"lo":0.52,"hi":0.68},{"t":4.2,"v":0.38,"lo":0.3,"hi":0.46},{"t":4.3,"v":0.64,"lo":0.56,"hi":0.72},{"t":4.4,"v":0.33,"lo":0.25,"hi":0.41},{"t":4.5,"v":0.6,"lo":0.52,"hi":0.68},{"t":4.6,"v":0.5,"lo":0.42,"hi":0.58},{"t":4.7,"v":0.53,"lo":0.45,"hi":0.61},{"t":4.8,"v":0.72,"lo":0.64,"hi":0.8},{"t":4.9,"v":0.65,"lo":0.57,"hi":0.73},
      {"t":5.0,"v":0.62,"lo":0.54,"hi":0.7},{"t":5.1,"v":0.63,"lo":0.55,"hi":0.71},{"t":5.2,"v":0.87,"lo":0.79,"hi":0.95},{"t":5.3,"v":0.72,"lo":0.64,"hi":0.8},{"t":5.4,"v":0.74,"lo":0.66,"hi":0.82},{"t":5.5,"v":0.6,"lo":0.52,"hi":0.68},{"t":5.6,"v":0.73,"lo":0.65,"hi":0.81},{"t":5.7,"v":0.77,"lo":0.69,"hi":0.85},{"t":5.8,"v":0.71,"lo":0.63,"hi":0.79},{"t":5.9,"v":0.76,"lo":0.68,"hi":0.84},{"t":6.0,"v":0.74,"lo":0.66,"hi":0.82}
    ],
    "cc": [
      {"t":-3.0,"v":0.84,"lo":0.74,"hi":0.94},{"t":-2.9,"v":0.83,"lo":0.73,"hi":0.93},{"t":-2.8,"v":0.66,"lo":0.56,"hi":0.76},{"t":-2.7,"v":0.83,"lo":0.73,"hi":0.93},{"t":-2.6,"v":0.66,"lo":0.56,"hi":0.76},{"t":-2.5,"v":0.49,"lo":0.39,"hi":0.59},{"t":-2.4,"v":0.47,"lo":0.37,"hi":0.57},{"t":-2.3,"v":0.47,"lo":0.37,"hi":0.57},{"t":-2.2,"v":0.33,"lo":0.23,"hi":0.43},{"t":-2.1,"v":0.1,"lo":0.0,"hi":0.2},
      {"t":-2.0,"v":0.37,"lo":0.27,"hi":0.47},{"t":-1.9,"v":0.23,"lo":0.13,"hi":0.33},{"t":-1.8,"v":0.33,"lo":0.23,"hi":0.43},{"t":-1.7,"v":0.16,"lo":0.06,"hi":0.26},{"t":-1.6,"v":-0.03,"lo":-0.13,"hi":0.07},{"t":-1.5,"v":0.06,"lo":-0.04,"hi":0.16},{"t":-1.4,"v":-0.01,"lo":-0.11,"hi":0.09},{"t":-1.3,"v":-0.03,"lo":-0.13,"hi":0.07},{"t":-1.2,"v":-0.37,"lo":-0.47,"hi":-0.27},{"t":-1.1,"v":-0.38,"lo":-0.48,"hi":-0.28},
      {"t":-1.0,"v":-0.38,"lo":-0.48,"hi":-0.28},{"t":-0.9,"v":-0.37,"lo":-0.47,"hi":-0.27},{"t":-0.8,"v":-0.35,"lo":-0.45,"hi":-0.25},{"t":-0.7,"v":-0.27,"lo":-0.37,"hi":-0.17},{"t":-0.6,"v":-0.5,"lo":-0.6,"hi":-0.4},{"t":-0.5,"v":-0.48,"lo":-0.58,"hi":-0.38},{"t":-0.4,"v":-0.42,"lo":-0.52,"hi":-0.32},{"t":-0.3,"v":-0.53,"lo":-0.63,"hi":-0.43},{"t":-0.2,"v":-0.05,"lo":-0.15,"hi":0.05},{"t":-0.1,"v":0.5,"lo":0.38,"hi":0.62},
      {"t":0.0,"v":1.17,"lo":1.02,"hi":1.32},{"t":0.1,"v":2.1,"lo":1.9,"hi":2.3},{"t":0.2,"v":2.75,"lo":2.55,"hi":2.95},{"t":0.3,"v":2.4,"lo":2.2,"hi":2.6},{"t":0.4,"v":2.0,"lo":1.83,"hi":2.17},{"t":0.5,"v":1.7,"lo":1.55,"hi":1.85},{"t":0.6,"v":1.88,"lo":1.73,"hi":2.03},{"t":0.7,"v":1.92,"lo":1.77,"hi":2.07},{"t":0.8,"v":1.72,"lo":1.57,"hi":1.87},{"t":0.9,"v":2.05,"lo":1.9,"hi":2.2},
      {"t":1.0,"v":1.5,"lo":1.35,"hi":1.65},{"t":1.1,"v":1.92,"lo":1.77,"hi":2.07},{"t":1.2,"v":1.78,"lo":1.63,"hi":1.93},{"t":1.3,"v":1.66,"lo":1.51,"hi":1.81},{"t":1.4,"v":1.53,"lo":1.38,"hi":1.68},{"t":1.5,"v":1.38,"lo":1.23,"hi":1.53},{"t":1.6,"v":1.57,"lo":1.42,"hi":1.72},{"t":1.7,"v":1.4,"lo":1.25,"hi":1.55},{"t":1.8,"v":1.2,"lo":1.05,"hi":1.35},{"t":1.9,"v":1.57,"lo":1.42,"hi":1.72},
      {"t":2.0,"v":1.1,"lo":0.98,"hi":1.22},{"t":2.1,"v":1.03,"lo":0.91,"hi":1.15},{"t":2.2,"v":1.27,"lo":1.15,"hi":1.39},{"t":2.3,"v":1.06,"lo":0.94,"hi":1.18},{"t":2.4,"v":0.98,"lo":0.86,"hi":1.1},{"t":2.5,"v":0.88,"lo":0.76,"hi":1.0},{"t":2.6,"v":0.95,"lo":0.83,"hi":1.07},{"t":2.7,"v":1.17,"lo":1.05,"hi":1.29},{"t":2.8,"v":0.9,"lo":0.8,"hi":1.0},{"t":2.9,"v":0.82,"lo":0.72,"hi":0.92},
      {"t":3.0,"v":0.67,"lo":0.57,"hi":0.77},{"t":3.1,"v":0.78,"lo":0.68,"hi":0.88},{"t":3.2,"v":0.88,"lo":0.78,"hi":0.98},{"t":3.3,"v":0.86,"lo":0.76,"hi":0.96},{"t":3.4,"v":0.82,"lo":0.72,"hi":0.92},{"t":3.5,"v":0.53,"lo":0.43,"hi":0.63},{"t":3.6,"v":0.53,"lo":0.43,"hi":0.63},{"t":3.7,"v":0.53,"lo":0.43,"hi":0.63},{"t":3.8,"v":0.5,"lo":0.4,"hi":0.6},{"t":3.9,"v":0.78,"lo":0.68,"hi":0.88},
      {"t":4.0,"v":0.56,"lo":0.46,"hi":0.66},{"t":4.1,"v":0.55,"lo":0.45,"hi":0.65},{"t":4.2,"v":0.53,"lo":0.43,"hi":0.63},{"t":4.3,"v":0.6,"lo":0.5,"hi":0.7},{"t":4.4,"v":0.42,"lo":0.32,"hi":0.52},{"t":4.5,"v":0.58,"lo":0.48,"hi":0.68},{"t":4.6,"v":0.78,"lo":0.68,"hi":0.88},{"t":4.7,"v":0.73,"lo":0.63,"hi":0.83},{"t":4.8,"v":0.72,"lo":0.62,"hi":0.82},{"t":4.9,"v":0.72,"lo":0.62,"hi":0.82},
      {"t":5.0,"v":0.72,"lo":0.62,"hi":0.82},{"t":5.1,"v":0.72,"lo":0.62,"hi":0.82},{"t":5.2,"v":0.76,"lo":0.66,"hi":0.86},{"t":5.3,"v":0.67,"lo":0.57,"hi":0.77},{"t":5.4,"v":0.66,"lo":0.56,"hi":0.76},{"t":5.5,"v":0.5,"lo":0.4,"hi":0.6},{"t":5.6,"v":0.64,"lo":0.54,"hi":0.74},{"t":5.7,"v":0.78,"lo":0.68,"hi":0.88},{"t":5.8,"v":0.59,"lo":0.49,"hi":0.69},{"t":5.9,"v":0.64,"lo":0.54,"hi":0.74},{"t":6.0,"v":0.66,"lo":0.56,"hi":0.76}
    ]
  },
  "bounds": "flush",
  "spacing": 409,
  "hconcat": [
    {
      "bounds": "flush",
      "spacing": 61,
      "vconcat": [
        {"width": 10, "height": 6, "data": {"values": [{}]}, "mark": {"type": "point", "opacity": 0}},
        {
          "width": 283, "height": 394,
          "data": {"values": [{}]},
          "layer": [
            {"data": {"name": "licks"}, "mark": {"type": "bar", "orient": "horizontal", "size": 7, "color": "#fbd7a0"},
             "encoding": {
               "x": {"field": "s", "type": "quantitative", "scale": {"domain": [-3, 6], "nice": false, "zero": false}, "axis": {"values": [-2, 0, 2, 4, 6], "labels": false, "title": null, "tickSize": 7, "tickCount": 12}},
               "x2": {"field": "e"},
               "y": {"field": "r", "type": "quantitative", "scale": {"domain": [0, 48], "nice": false, "zero": false}, "axis": {"values": [0, 5, 10, 15, 20, 25, 30, 35, 40, 45], "title": "Lick #", "labelPadding": 6, "titlePadding": 7, "labelOverlap": false, "tickCount": 12}}
             }},
            {"data": {"name": "spikes"}, "transform": [{"flatten": ["t"]}],
             "mark": {"type": "tick", "orient": "vertical", "size": 5, "thickness": 1.5, "color": "#1e2d6e"},
             "encoding": {"x": {"field": "t", "type": "quantitative"}, "y": {"field": "r", "type": "quantitative"}}},
            {"mark": {"type": "text", "text": "A", "fontSize": 30, "fontWeight": "bold", "align": "left", "baseline": "alphabetic", "color": "#000"},
             "encoding": {"x": {"datum": -4.78}, "y": {"datum": 53.2}}},
            {"mark": {"type": "text", "text": "Unit 6207A-RH-0077", "fontSize": 21, "align": "center", "baseline": "alphabetic", "color": "#222"},
             "encoding": {"x": {"datum": 1.61}, "y": {"datum": 49.2}}}
          ]
        },
        {
          "width": 283, "height": 283,
          "data": {"values": [{}]},
          "layer": [
            {"data": {"name": "rateA"}, "mark": {"type": "area", "color": "#96a5d6"},
             "encoding": {
               "x": {"field": "t", "type": "quantitative", "scale": {"domain": [-3, 6], "nice": false, "zero": false}, "axis": {"values": [-2, 0, 2, 4, 6], "title": "Time (s)", "tickCount": 12, "labelExpr": "datum.value < 0 ? '-' + format(-datum.value, 'd') : format(datum.value, 'd')"}},
               "y": {"field": "lo", "type": "quantitative", "scale": {"domain": [0, 15], "nice": false, "zero": false}, "axis": {"values": [0, 5, 10, 15], "title": "Rate (spk/s)", "labelPadding": 6, "titlePadding": 7, "labelOverlap": false, "tickCount": 12}},
               "y2": {"field": "hi"}
             }},
            {"data": {"name": "rateA"}, "mark": {"type": "line", "color": "#1b2b66", "strokeWidth": 3},
             "encoding": {"x": {"field": "t", "type": "quantitative"}, "y": {"field": "v", "type": "quantitative"}}},
            {"mark": {"type": "rule", "color": "#000", "strokeWidth": 1.2, "strokeDash": [20, 26]},
             "encoding": {"x": {"datum": 0}}},
            {"mark": {"type": "text", "text": "N = 47 licks", "fontSize": 20, "align": "center", "baseline": "alphabetic", "color": "#222"},
             "encoding": {"x": {"datum": 4.16}, "y": {"datum": 12.0}}}
          ]
        }
      ]
    },
    {
      "bounds": "flush",
      "spacing": 43,
      "vconcat": [
        {"width": 10, "height": 20, "data": {"values": [{}]}, "mark": {"type": "point", "opacity": 0}},
        {
          "width": 392, "height": 196,
          "data": {"values": [{}]},
          "layer": [
            {"data": {"name": "bt"}, "mark": {"type": "area", "color": "#9bdc9b"},
             "encoding": {
               "x": {"field": "t", "type": "quantitative", "scale": {"domain": [-3, 6], "nice": false, "zero": false}, "axis": {"values": [-2, 0, 2, 4, 6], "labels": false, "title": null, "tickCount": 12}},
               "y": {"field": "lo", "type": "quantitative", "scale": {"domain": [-1, 2], "nice": false, "zero": false}, "axis": {"values": [-1, 0, 1, 2], "title": "Rate (z-score)", "titlePadding": 5, "labelOverlap": false, "tickCount": 12, "labelExpr": "datum.value < 0 ? '-' + format(-datum.value, 'd') : format(datum.value, 'd')"}},
               "y2": {"field": "hi"}
             }},
            {"data": {"name": "bt"}, "mark": {"type": "line", "color": "#23962a", "strokeWidth": 2.5},
             "encoding": {"x": {"field": "t", "type": "quantitative"}, "y": {"field": "v", "type": "quantitative"}}},
            {"mark": {"type": "rule", "color": "#000", "strokeWidth": 1.2, "strokeDash": [10, 6]},
             "encoding": {"x": {"datum": 0}}},
            {"data": {"values": [{"a": 0, "b": 1.98, "lo": 1.62, "hi": 1.89}, {"a": 2.21, "b": 3.73, "lo": 1.62, "hi": 1.89}]},
             "mark": {"type": "rect", "color": "#c8c8c8"},
             "encoding": {"x": {"field": "a", "type": "quantitative"}, "x2": {"field": "b"}, "y": {"field": "lo", "type": "quantitative"}, "y2": {"field": "hi"}}},
            {"mark": {"type": "text", "text": "B", "fontSize": 30, "fontWeight": "bold", "align": "left", "baseline": "alphabetic", "color": "#000"},
             "encoding": {"x": {"datum": -4.4}, "y": {"datum": 2.6}}},
            {"mark": {"type": "text", "text": "“Vocal-orofacial” Neurons", "fontSize": 28, "align": "center", "baseline": "alphabetic", "color": "#000"},
             "encoding": {"x": {"datum": 1.34}, "y": {"datum": 2.43}}},
            {"mark": {"type": "text", "text": "Phee Call", "fontSize": 17, "align": "center", "baseline": "alphabetic", "color": "#222"},
             "encoding": {"x": {"datum": 1.64}, "y": {"datum": 1.92}}},
            {"mark": {"type": "text", "text": "Vocal Production", "fontSize": 20, "align": "center", "baseline": "alphabetic", "color": "#222"},
             "encoding": {"x": {"datum": 3.73}, "y": {"datum": 0.62}}},
            {"mark": {"type": "text", "text": "n = 138 neurons", "fontSize": 17, "align": "right", "baseline": "alphabetic", "color": "#111"},
             "encoding": {"x": {"datum": 5.88}, "y": {"datum": -0.89}}}
          ]
        },
        {
          "width": 392, "height": 196,
          "data": {"values": [{}]},
          "layer": [
            {"data": {"name": "bm"}, "mark": {"type": "area", "color": "#9bdc9b"},
             "encoding": {
               "x": {"field": "t", "type": "quantitative", "scale": {"domain": [-3, 6], "nice": false, "zero": false}, "axis": {"values": [-2, 0, 2, 4, 6], "title": "Time (s)", "tickCount": 12, "labelExpr": "datum.value < 0 ? '-' + format(-datum.value, 'd') : format(datum.value, 'd')"}},
               "y": {"field": "lo", "type": "quantitative", "scale": {"domain": [-1, 4], "nice": false, "zero": false}, "axis": {"values": [-1, 0, 1, 2, 3, 4], "title": "Rate (z-score)", "titlePadding": 5, "labelOverlap": false, "tickCount": 12, "labelExpr": "datum.value < 0 ? '-' + format(-datum.value, 'd') : format(datum.value, 'd')"}},
               "y2": {"field": "hi"}
             }},
            {"data": {"name": "bm"}, "mark": {"type": "line", "color": "#23962a", "strokeWidth": 2.5},
             "encoding": {"x": {"field": "t", "type": "quantitative"}, "y": {"field": "v", "type": "quantitative"}}},
            {"mark": {"type": "rule", "color": "#000", "strokeWidth": 1.2, "strokeDash": [10, 6]},
             "encoding": {"x": {"datum": 0}}},
            {"data": {"values": [{"a": 0, "b": 2.44, "lo": 3.65, "hi": 4.1}]},
             "mark": {"type": "rect", "color": "#c8c8c8"},
             "encoding": {"x": {"field": "a", "type": "quantitative"}, "x2": {"field": "b"}, "y": {"field": "lo", "type": "quantitative"}, "y2": {"field": "hi"}}},
            {"mark": {"type": "text", "text": "Lick", "fontSize": 17, "align": "center", "baseline": "alphabetic", "color": "#222"},
             "encoding": {"x": {"datum": 1.2}, "y": {"datum": 4.18}}},
            {"mark": {"type": "text", "text": "Orofacial Movement", "fontSize": 20, "align": "center", "baseline": "alphabetic", "color": "#222"},
             "encoding": {"x": {"datum": 3.91}, "y": {"datum": 1.88}}},
            {"mark": {"type": "text", "text": "(Licking)", "fontSize": 20, "align": "center", "baseline": "alphabetic", "color": "#222"},
             "encoding": {"x": {"datum": 3.93}, "y": {"datum": 1.32}}},
            {"mark": {"type": "text", "text": "n = 138 neurons", "fontSize": 17, "align": "right", "baseline": "alphabetic", "color": "#111"},
             "encoding": {"x": {"datum": 5.81}, "y": {"datum": -0.8}}}
          ]
        },
        {"width": 10, "height": 88, "data": {"values": [{}]}, "mark": {"type": "point", "opacity": 0}},
        {
          "width": 392, "height": 196,
          "data": {"values": [{}]},
          "layer": [
            {"data": {"name": "cc"}, "mark": {"type": "area", "color": "#aaaaf6"},
             "encoding": {
               "x": {"field": "t", "type": "quantitative", "scale": {"domain": [-3, 6], "nice": false, "zero": false}, "axis": {"values": [-2, 0, 2, 4, 6], "title": "Time (s)", "tickCount": 12, "labelExpr": "datum.value < 0 ? '-' + format(-datum.value, 'd') : format(datum.value, 'd')"}},
               "y": {"field": "lo", "type": "quantitative", "scale": {"domain": [-1, 4], "nice": false, "zero": false}, "axis": {"values": [-1, 0, 1, 2, 3, 4], "title": "Rate (z-score)", "titlePadding": 5, "labelOverlap": false, "tickCount": 12, "labelExpr": "datum.value < 0 ? '-' + format(-datum.value, 'd') : format(datum.value, 'd')"}},
               "y2": {"field": "hi"}
             }},
            {"data": {"name": "cc"}, "mark": {"type": "line", "color": "#1414ee", "strokeWidth": 2.5},
             "encoding": {"x": {"field": "t", "type": "quantitative"}, "y": {"field": "v", "type": "quantitative"}}},
            {"mark": {"type": "rule", "color": "#000", "strokeWidth": 1.2, "strokeDash": [10, 6]},
             "encoding": {"x": {"datum": 0}}},
            {"data": {"values": [{"a": 0, "b": 2.58, "lo": 3.59, "hi": 4.05}]},
             "mark": {"type": "rect", "color": "#c8c8c8"},
             "encoding": {"x": {"field": "a", "type": "quantitative"}, "x2": {"field": "b"}, "y": {"field": "lo", "type": "quantitative"}, "y2": {"field": "hi"}}},
            {"mark": {"type": "text", "text": "C", "fontSize": 30, "fontWeight": "bold", "align": "left", "baseline": "alphabetic", "color": "#000"},
             "encoding": {"x": {"datum": -4.4}, "y": {"datum": 5.71}}},
            {"mark": {"type": "text", "text": "“Orofacial-only” Neurons", "fontSize": 28, "align": "center", "baseline": "alphabetic", "color": "#000"},
             "encoding": {"x": {"datum": 1.2}, "y": {"datum": 5.17}}},
            {"mark": {"type": "text", "text": "Lick", "fontSize": 17, "align": "center", "baseline": "alphabetic", "color": "#222"},
             "encoding": {"x": {"datum": 1.2}, "y": {"datum": 4.13}}},
            {"mark": {"type": "text", "text": "Orofacial Movement", "fontSize": 20, "align": "center", "baseline": "alphabetic", "color": "#222"},
             "encoding": {"x": {"datum": 3.93}, "y": {"datum": 1.98}}},
            {"mark": {"type": "text", "text": "(Licking)", "fontSize": 20, "align": "center", "baseline": "alphabetic", "color": "#222"},
             "encoding": {"x": {"datum": 3.93}, "y": {"datum": 1.4}}},
            {"mark": {"type": "text", "text": "n = 73 neurons", "fontSize": 17, "align": "right", "baseline": "alphabetic", "color": "#111"},
             "encoding": {"x": {"datum": 5.98}, "y": {"datum": -0.8}}}
          ]
        }
      ]
    }
  ]
}
